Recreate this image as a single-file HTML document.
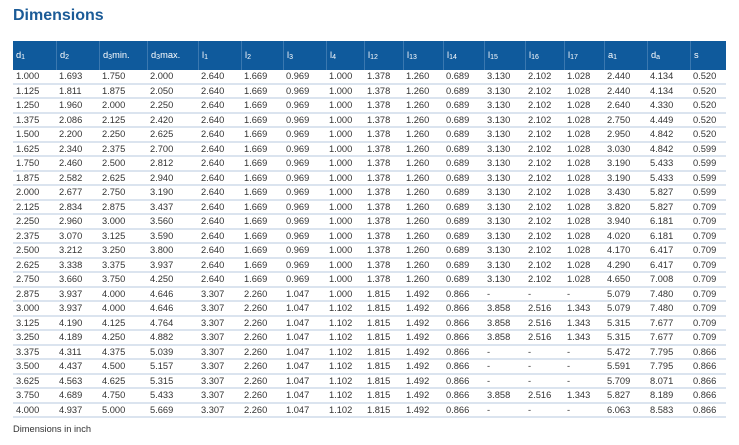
<!DOCTYPE html><html><head><style>
body{margin:0;background:#fff;width:739px;height:445px;overflow:hidden;font-family:"Liberation Sans",sans-serif}
h1{position:absolute;left:13px;top:7px;margin:0;font-size:16px;color:#1b5b97;font-weight:bold}
table{position:absolute;left:13px;top:41px;display:grid;width:713px;grid-template-columns:43px 43px 48px 51px 43px 42px 43px 38px 39px 40px 41px 41px 39px 40px 43px 43px 36px;grid-template-rows:29px repeat(24,14.5px);font-size:9.3px;color:#333;border-spacing:0}
tbody,tr{display:contents}
th,td{display:block;box-sizing:border-box;white-space:nowrap;padding:0 0 0 3px;text-align:left}
th{background:#0f5a9c;color:#fff;font-weight:normal;line-height:29px;border-left:1px solid #3a78b0;font-size:9.3px}
th:first-child{border-left:none}
td{border-bottom:2px solid #dbe4ef;line-height:12.5px}
sub{font-size:7px;vertical-align:-1px;line-height:0}
.f{position:absolute;left:13px;top:424px;font-size:9.3px;color:#333}
</style></head><body>
<h1>Dimensions</h1>
<table>
<tr><th>d<sub>1</sub></th><th>d<sub>2</sub></th><th>d<sub>3</sub>min.</th><th>d<sub>3</sub>max.</th><th>l<sub>1</sub></th><th>l<sub>2</sub></th><th>l<sub>3</sub></th><th>l<sub>4</sub></th><th>l<sub>12</sub></th><th>l<sub>13</sub></th><th>l<sub>14</sub></th><th>l<sub>15</sub></th><th>l<sub>16</sub></th><th>l<sub>17</sub></th><th>a<sub>1</sub></th><th>d<sub>a</sub></th><th>s</th></tr>
<tr><td>1.000</td><td>1.693</td><td>1.750</td><td>2.000</td><td>2.640</td><td>1.669</td><td>0.969</td><td>1.000</td><td>1.378</td><td>1.260</td><td>0.689</td><td>3.130</td><td>2.102</td><td>1.028</td><td>2.440</td><td>4.134</td><td>0.520</td></tr>
<tr><td>1.125</td><td>1.811</td><td>1.875</td><td>2.050</td><td>2.640</td><td>1.669</td><td>0.969</td><td>1.000</td><td>1.378</td><td>1.260</td><td>0.689</td><td>3.130</td><td>2.102</td><td>1.028</td><td>2.440</td><td>4.134</td><td>0.520</td></tr>
<tr><td>1.250</td><td>1.960</td><td>2.000</td><td>2.250</td><td>2.640</td><td>1.669</td><td>0.969</td><td>1.000</td><td>1.378</td><td>1.260</td><td>0.689</td><td>3.130</td><td>2.102</td><td>1.028</td><td>2.640</td><td>4.330</td><td>0.520</td></tr>
<tr><td>1.375</td><td>2.086</td><td>2.125</td><td>2.420</td><td>2.640</td><td>1.669</td><td>0.969</td><td>1.000</td><td>1.378</td><td>1.260</td><td>0.689</td><td>3.130</td><td>2.102</td><td>1.028</td><td>2.750</td><td>4.449</td><td>0.520</td></tr>
<tr><td>1.500</td><td>2.200</td><td>2.250</td><td>2.625</td><td>2.640</td><td>1.669</td><td>0.969</td><td>1.000</td><td>1.378</td><td>1.260</td><td>0.689</td><td>3.130</td><td>2.102</td><td>1.028</td><td>2.950</td><td>4.842</td><td>0.520</td></tr>
<tr><td>1.625</td><td>2.340</td><td>2.375</td><td>2.700</td><td>2.640</td><td>1.669</td><td>0.969</td><td>1.000</td><td>1.378</td><td>1.260</td><td>0.689</td><td>3.130</td><td>2.102</td><td>1.028</td><td>3.030</td><td>4.842</td><td>0.599</td></tr>
<tr><td>1.750</td><td>2.460</td><td>2.500</td><td>2.812</td><td>2.640</td><td>1.669</td><td>0.969</td><td>1.000</td><td>1.378</td><td>1.260</td><td>0.689</td><td>3.130</td><td>2.102</td><td>1.028</td><td>3.190</td><td>5.433</td><td>0.599</td></tr>
<tr><td>1.875</td><td>2.582</td><td>2.625</td><td>2.940</td><td>2.640</td><td>1.669</td><td>0.969</td><td>1.000</td><td>1.378</td><td>1.260</td><td>0.689</td><td>3.130</td><td>2.102</td><td>1.028</td><td>3.190</td><td>5.433</td><td>0.599</td></tr>
<tr><td>2.000</td><td>2.677</td><td>2.750</td><td>3.190</td><td>2.640</td><td>1.669</td><td>0.969</td><td>1.000</td><td>1.378</td><td>1.260</td><td>0.689</td><td>3.130</td><td>2.102</td><td>1.028</td><td>3.430</td><td>5.827</td><td>0.599</td></tr>
<tr><td>2.125</td><td>2.834</td><td>2.875</td><td>3.437</td><td>2.640</td><td>1.669</td><td>0.969</td><td>1.000</td><td>1.378</td><td>1.260</td><td>0.689</td><td>3.130</td><td>2.102</td><td>1.028</td><td>3.820</td><td>5.827</td><td>0.709</td></tr>
<tr><td>2.250</td><td>2.960</td><td>3.000</td><td>3.560</td><td>2.640</td><td>1.669</td><td>0.969</td><td>1.000</td><td>1.378</td><td>1.260</td><td>0.689</td><td>3.130</td><td>2.102</td><td>1.028</td><td>3.940</td><td>6.181</td><td>0.709</td></tr>
<tr><td>2.375</td><td>3.070</td><td>3.125</td><td>3.590</td><td>2.640</td><td>1.669</td><td>0.969</td><td>1.000</td><td>1.378</td><td>1.260</td><td>0.689</td><td>3.130</td><td>2.102</td><td>1.028</td><td>4.020</td><td>6.181</td><td>0.709</td></tr>
<tr><td>2.500</td><td>3.212</td><td>3.250</td><td>3.800</td><td>2.640</td><td>1.669</td><td>0.969</td><td>1.000</td><td>1.378</td><td>1.260</td><td>0.689</td><td>3.130</td><td>2.102</td><td>1.028</td><td>4.170</td><td>6.417</td><td>0.709</td></tr>
<tr><td>2.625</td><td>3.338</td><td>3.375</td><td>3.937</td><td>2.640</td><td>1.669</td><td>0.969</td><td>1.000</td><td>1.378</td><td>1.260</td><td>0.689</td><td>3.130</td><td>2.102</td><td>1.028</td><td>4.290</td><td>6.417</td><td>0.709</td></tr>
<tr><td>2.750</td><td>3.660</td><td>3.750</td><td>4.250</td><td>2.640</td><td>1.669</td><td>0.969</td><td>1.000</td><td>1.378</td><td>1.260</td><td>0.689</td><td>3.130</td><td>2.102</td><td>1.028</td><td>4.650</td><td>7.008</td><td>0.709</td></tr>
<tr><td>2.875</td><td>3.937</td><td>4.000</td><td>4.646</td><td>3.307</td><td>2.260</td><td>1.047</td><td>1.000</td><td>1.815</td><td>1.492</td><td>0.866</td><td>-</td><td>-</td><td>-</td><td>5.079</td><td>7.480</td><td>0.709</td></tr>
<tr><td>3.000</td><td>3.937</td><td>4.000</td><td>4.646</td><td>3.307</td><td>2.260</td><td>1.047</td><td>1.102</td><td>1.815</td><td>1.492</td><td>0.866</td><td>3.858</td><td>2.516</td><td>1.343</td><td>5.079</td><td>7.480</td><td>0.709</td></tr>
<tr><td>3.125</td><td>4.190</td><td>4.125</td><td>4.764</td><td>3.307</td><td>2.260</td><td>1.047</td><td>1.102</td><td>1.815</td><td>1.492</td><td>0.866</td><td>3.858</td><td>2.516</td><td>1.343</td><td>5.315</td><td>7.677</td><td>0.709</td></tr>
<tr><td>3.250</td><td>4.189</td><td>4.250</td><td>4.882</td><td>3.307</td><td>2.260</td><td>1.047</td><td>1.102</td><td>1.815</td><td>1.492</td><td>0.866</td><td>3.858</td><td>2.516</td><td>1.343</td><td>5.315</td><td>7.677</td><td>0.709</td></tr>
<tr><td>3.375</td><td>4.311</td><td>4.375</td><td>5.039</td><td>3.307</td><td>2.260</td><td>1.047</td><td>1.102</td><td>1.815</td><td>1.492</td><td>0.866</td><td>-</td><td>-</td><td>-</td><td>5.472</td><td>7.795</td><td>0.866</td></tr>
<tr><td>3.500</td><td>4.437</td><td>4.500</td><td>5.157</td><td>3.307</td><td>2.260</td><td>1.047</td><td>1.102</td><td>1.815</td><td>1.492</td><td>0.866</td><td>-</td><td>-</td><td>-</td><td>5.591</td><td>7.795</td><td>0.866</td></tr>
<tr><td>3.625</td><td>4.563</td><td>4.625</td><td>5.315</td><td>3.307</td><td>2.260</td><td>1.047</td><td>1.102</td><td>1.815</td><td>1.492</td><td>0.866</td><td>-</td><td>-</td><td>-</td><td>5.709</td><td>8.071</td><td>0.866</td></tr>
<tr><td>3.750</td><td>4.689</td><td>4.750</td><td>5.433</td><td>3.307</td><td>2.260</td><td>1.047</td><td>1.102</td><td>1.815</td><td>1.492</td><td>0.866</td><td>3.858</td><td>2.516</td><td>1.343</td><td>5.827</td><td>8.189</td><td>0.866</td></tr>
<tr><td>4.000</td><td>4.937</td><td>5.000</td><td>5.669</td><td>3.307</td><td>2.260</td><td>1.047</td><td>1.102</td><td>1.815</td><td>1.492</td><td>0.866</td><td>-</td><td>-</td><td>-</td><td>6.063</td><td>8.583</td><td>0.866</td></tr>
</table>
<div class="f">Dimensions in inch</div>
</body></html>
